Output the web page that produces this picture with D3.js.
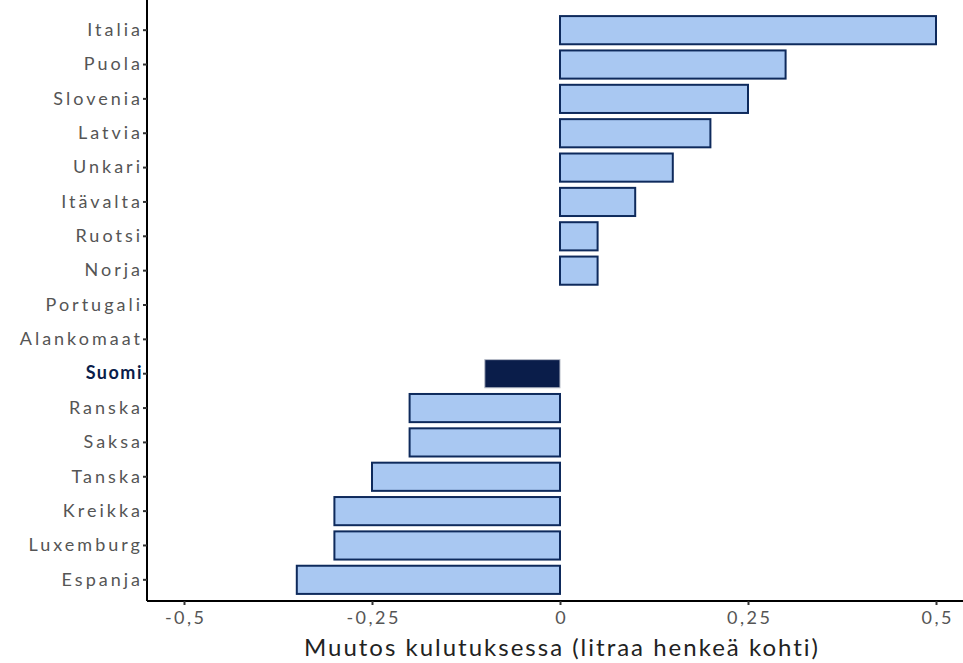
<!DOCTYPE html>
<html><head><meta charset="utf-8">
<script src="https://cdn.jsdelivr.net/npm/d3@7"></script>
<style>
body{margin:0;background:#fff;}
text{font-family:"Lato","Open Sans",sans-serif;}
</style></head>
<body><svg id="c" width="963" height="663"></svg>
<script>
const countries = ["Italia","Puola","Slovenia","Latvia","Unkari","Itävalta","Ruotsi","Norja","Portugali","Alankomaat","Suomi","Ranska","Saksa","Tanska","Kreikka","Luxemburg","Espanja"];
const values = [0.5,0.3,0.25,0.2,0.15,0.1,0.05,0.05,0,0,-0.1,-0.2,-0.2,-0.25,-0.3,-0.3,-0.35];
const xTicks = [-0.5,-0.25,0,0.25,0.5];
const xTickLabels = ["-0,5","-0,25","0","0,25","0,5"];
const highlight = "Suomi";
const axisTitle = "Muutos kulutuksessa (litraa henkeä kohti)";

const svg = d3.select("#c");
const x = d3.scaleLinear().domain([-0.5,0.5]).range([184,936]);
const y = d3.scaleBand().domain(countries).range([13,597]).paddingInner(0.18).paddingOuter(0.09);

const data = countries.map((c,i)=>({c, v: values[i]}));

svg.append("g").selectAll("rect").data(data.filter(d=>d.v!==0)).join("rect")
  .attr("x", d=>Math.min(x(0),x(d.v)))
  .attr("y", d=>y(d.c))
  .attr("width", d=>Math.abs(x(d.v)-x(0)))
  .attr("height", y.bandwidth())
  .attr("fill", d=>d.c===highlight?"#0a1d4a":"#a9c8f2")
  .attr("stroke", d=>d.c===highlight?"#b8bdc8":"#0e2a5c")
  .attr("stroke-width", d=>d.c===highlight?1:2);

// y axis
const ya = svg.append("g").attr("transform","translate(147,0)")
  .call(d3.axisLeft(y).tickSize(4).tickPadding(0));
ya.select(".domain").attr("d","M0,0V601").attr("stroke","#000").attr("stroke-width",2);
ya.selectAll(".tick line").attr("stroke","#333").attr("stroke-width",2);
ya.selectAll(".tick text")
  .attr("font-size",18).attr("fill",d=>d===highlight?"#0a1d4a":"#555")
  .attr("font-weight",d=>d===highlight?"bold":"normal")
  .style("letter-spacing",d=>d===highlight?"1.5px":"3px");

// x axis
const xa = svg.append("g").attr("transform","translate(0,601)")
  .call(d3.axisBottom(x).tickValues(xTicks).tickFormat((d,i)=>xTickLabels[i]).tickSize(4).tickPadding(6));
xa.select(".domain").attr("d","M147,0H963").attr("stroke","#000").attr("stroke-width",2);
xa.selectAll(".tick line").attr("stroke","#333").attr("stroke-width",2);
xa.selectAll(".tick text").attr("font-size",18).attr("fill","#555").style("letter-spacing","2.5px")
  .attr("dx","1.2");

svg.append("text").attr("x",562).attr("y",656).attr("text-anchor","middle")
  .attr("font-size",24).attr("fill","#222").style("letter-spacing","2px").text(axisTitle);
</script></body></html>
